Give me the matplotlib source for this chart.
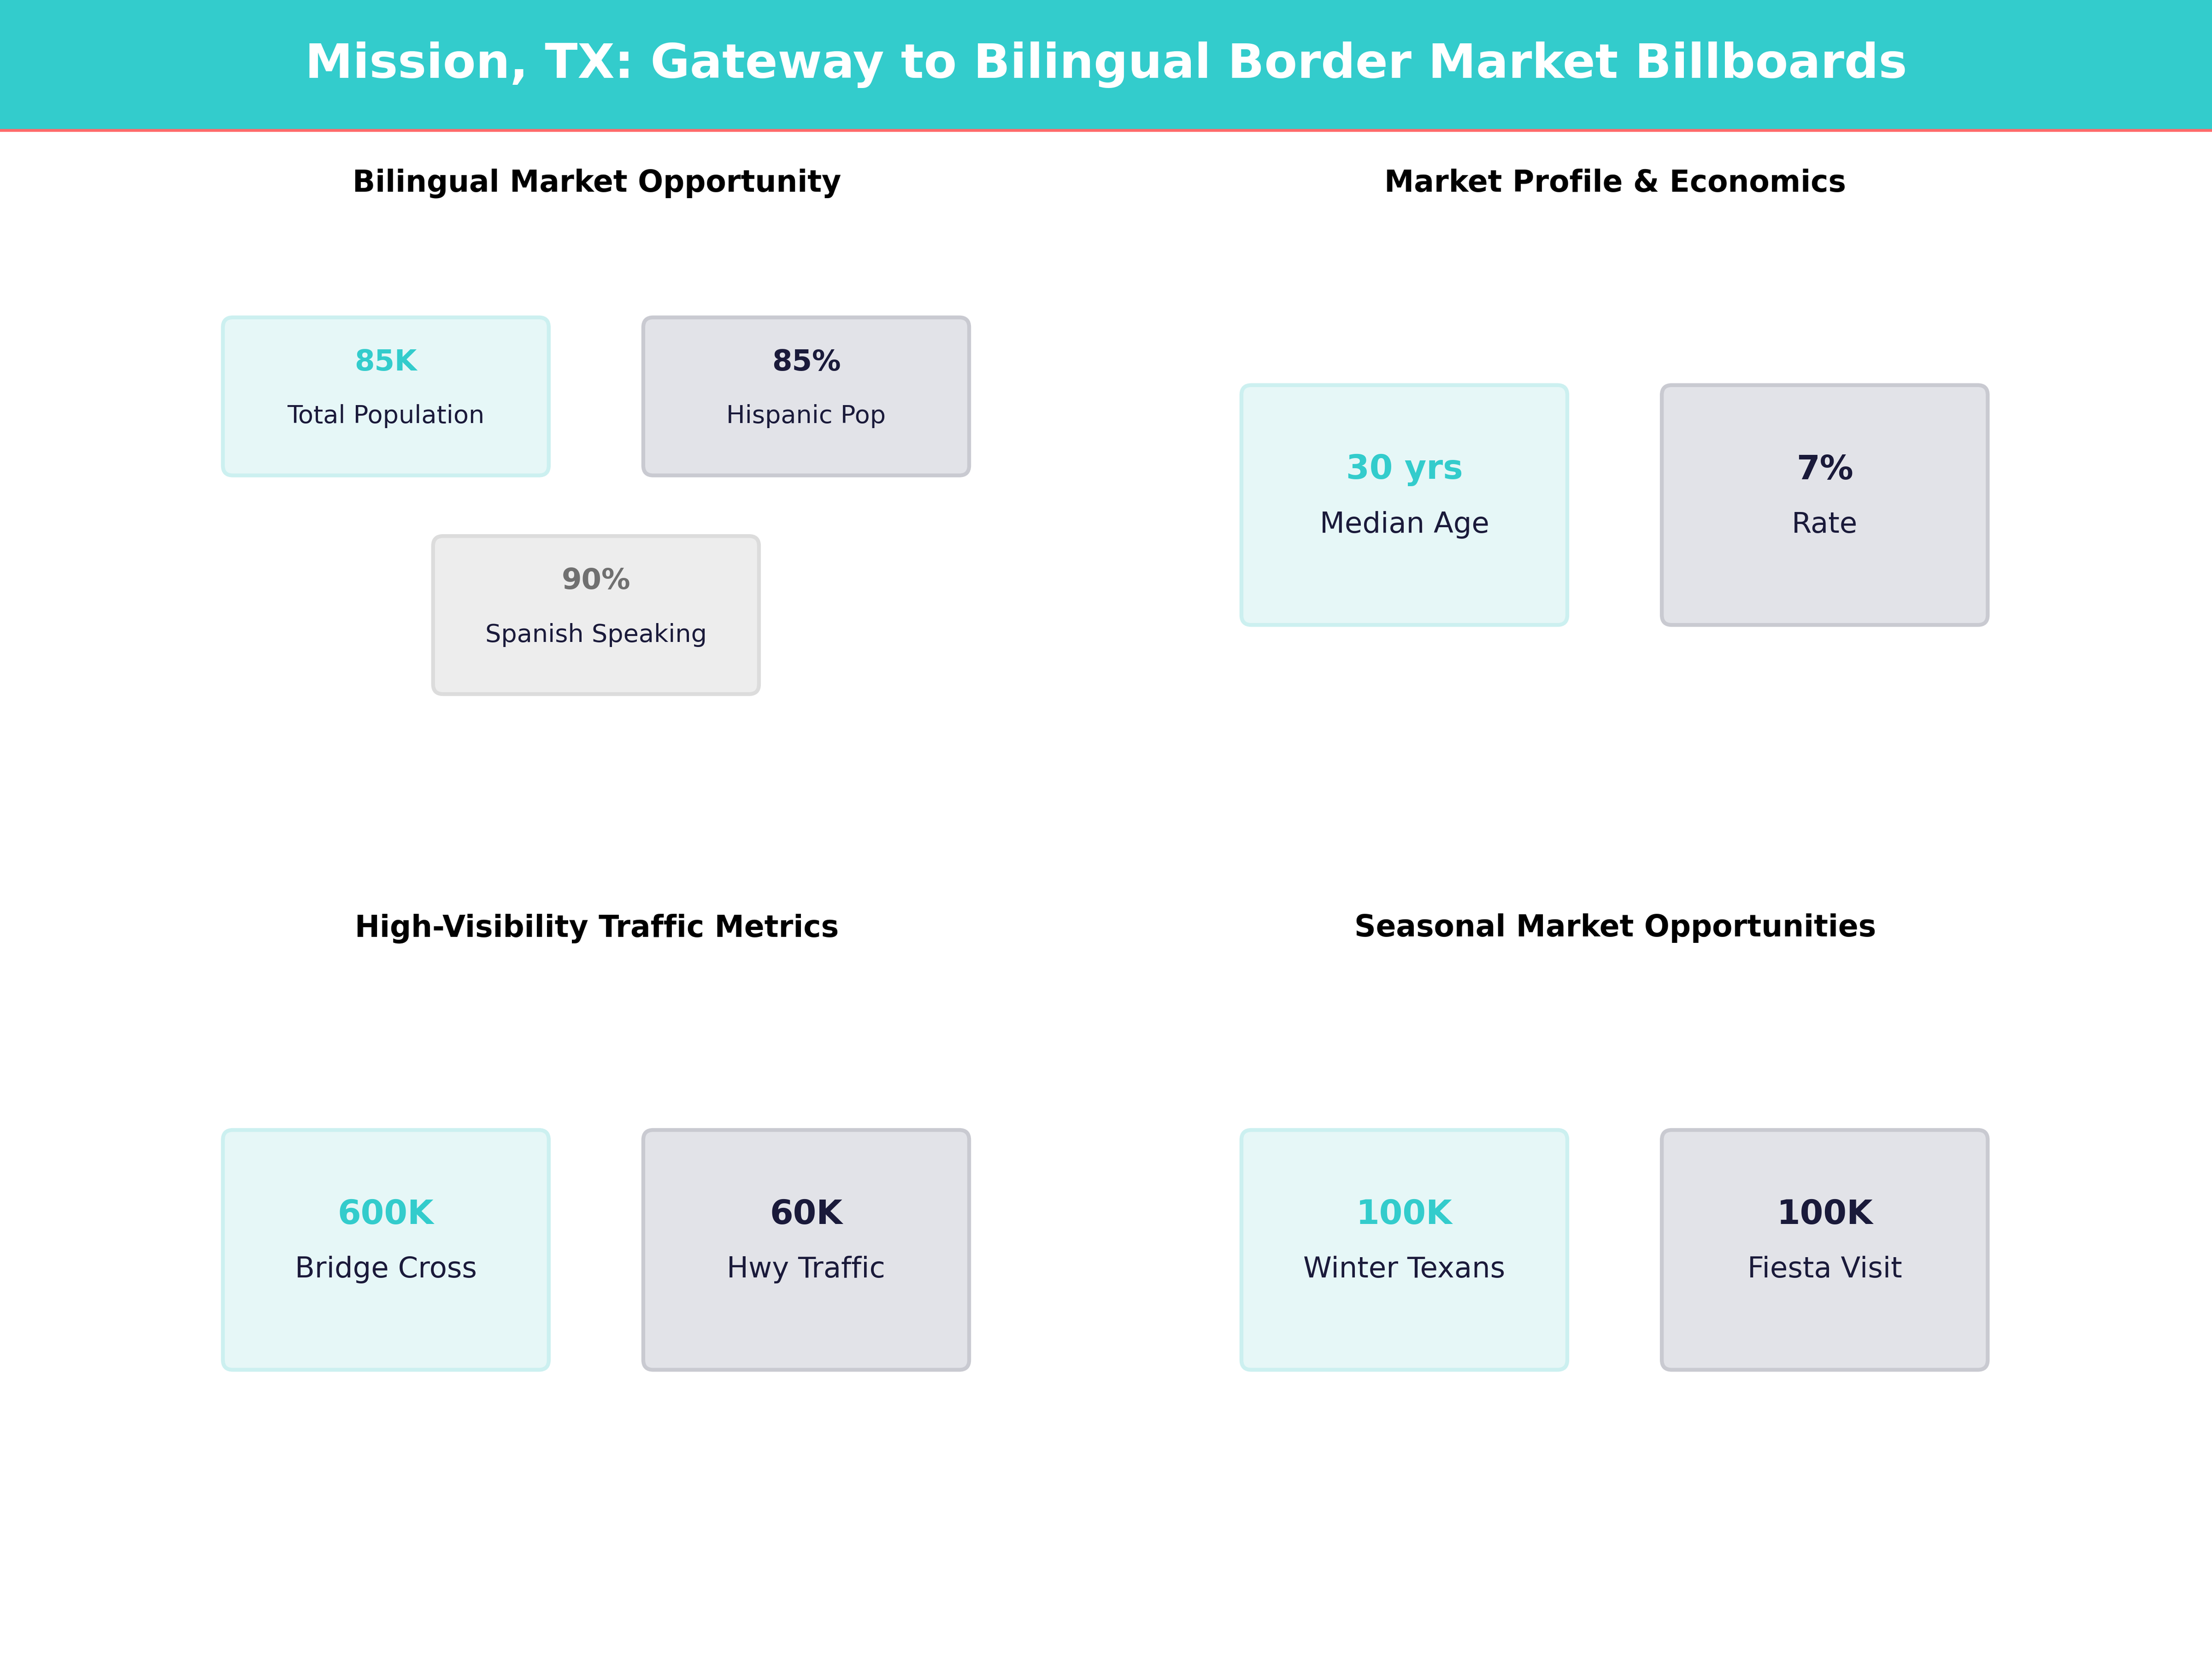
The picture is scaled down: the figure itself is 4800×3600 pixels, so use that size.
import matplotlib.pyplot as plt
from matplotlib.patches import FancyBboxPatch, Rectangle

title = "Mission, TX: Gateway to Bilingual Border Market Billboards"

panel_titles = ["Bilingual Market Opportunity", "Market Profile & Economics",
                "High-Visibility Traffic Metrics", "Seasonal Market Opportunities"]
panel_values = [["85K", "85%", "90%"], ["30 yrs", "7%"], ["600K", "60K"], ["100K", "100K"]]
panel_labels = [["Total Population", "Hispanic Pop", "Spanish Speaking"],
                ["Median Age", "Rate"], ["Bridge Cross", "Hwy Traffic"],
                ["Winter Texans", "Fiesta Visit"]]

teal = "#33CCCC"
navy = "#1A1A3A"
styles = [  # fill, edge, value colour
    ("#E6F7F7", "#CCF0F0", teal),
    ("#E2E3E8", "#C9CAD1", navy),
    ("#EDEDED", "#DCDCDC", "#707070"),
]

W, H = 1568, 1176
fig = plt.figure(figsize=(16, 12), dpi=300)
ax = fig.add_axes([0, 0, 1, 1])
ax.set_xlim(0, W)
ax.set_ylim(H, 0)
ax.axis("off")

ax.add_patch(Rectangle((0, 0), W, 92, color=teal, zorder=1))
ax.plot([0, W], [92.5, 92.5], color="#FF6B6B", lw=1.5, zorder=2)
ax.text(W / 2, 46, title, ha="center", va="center", color="white",
        fontsize=25, fontweight="bold")

centers = [(423, 130), (1145, 130), (423, 658), (1145, 658)]
bw = 231
for i, (cx, ty) in enumerate(centers):
    ax.text(cx, ty, panel_titles[i], ha="center", va="center",
            fontsize=15.5, fontweight="bold", color="black")
    vals, labs = panel_values[i], panel_labels[i]
    if len(vals) == 3:
        bh = 112
        pos = [(cx - 265, 225), (cx + 33, 225), (cx - 116, 380)]
        vs, ls, dv, dl = 15, 13, 32, 70
    else:
        bh = 170
        top = ty + 143
        pos = [(cx - 265, top), (cx + 33, top)]
        vs, ls, dv, dl = 17.5, 15, 60, 99
    for j, (x, y) in enumerate(pos):
        fc, ec, vc = styles[j]
        ax.add_patch(FancyBboxPatch((x, y), bw, bh, boxstyle="round,pad=0,rounding_size=7",
                                    fc=fc, ec=ec, lw=2, zorder=2))
        ax.text(x + bw / 2, y + dv, vals[j], ha="center", va="center",
                fontsize=vs, fontweight="bold", color=vc, zorder=3)
        ax.text(x + bw / 2, y + dl, labs[j], ha="center", va="center",
                fontsize=ls, color=navy, zorder=3)

fig.savefig("out.png", dpi=300)
